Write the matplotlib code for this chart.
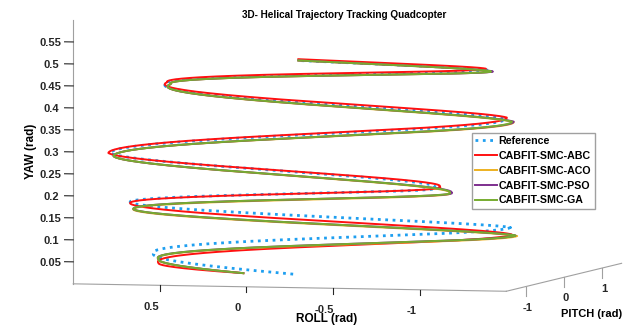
import numpy as np
import matplotlib.pyplot as plt
from mpl_toolkits.mplot3d import proj3d

plt.rcParams['font.family'] = ['Liberation Sans', 'DejaVu Sans']
plt.rcParams['font.weight'] = 'bold'

names = ['Reference', 'CABFIT-SMC-ABC', 'CABFIT-SMC-ACO', 'CABFIT-SMC-PSO', 'CABFIT-SMC-GA']
colors = ['#1f9ff0', '#ff1010', '#edb120', '#7e2f8e', '#77ac30']

# roll / yaw at each left/right turning point of the helix
ref_start = [0.03, 0.0]          # roll, yaw
ref_tip_roll = [0.87, -1.19, 1.00, -0.75, 1.12, -1.16, 0.79, -1.07]
ref_tip_yaw = [0.038, 0.111, 0.156, 0.199, 0.265, 0.358, 0.426, 0.467]
ref_end_yaw = 0.486

abc_start = [0.32, 0.0]
abc_tip_roll = [0.84, -1.20, 1.00, -0.78, 1.13, -1.17, 0.79, -1.05]
abc_tip_yaw = [0.017, 0.095, 0.154, 0.201, 0.265, 0.361, 0.428, 0.471]
abc_end_yaw = 0.489

aco_start = [0.32, 0.0]
aco_tip_roll = [0.84, -1.23, 0.98, -0.84, 1.10, -1.21, 0.77, -1.08]
aco_tip_yaw = [0.025, 0.092, 0.140, 0.187, 0.258, 0.351, 0.424, 0.465]
aco_end_yaw = 0.486

pso_start = [0.32, 0.0]
pso_tip_roll = [0.84, -1.22, 0.98, -0.85, 1.10, -1.21, 0.77, -1.09]
pso_tip_yaw = [0.026, 0.093, 0.141, 0.188, 0.258, 0.352, 0.424, 0.465]
pso_end_yaw = 0.486

ga_start = [0.32, 0.0]
ga_tip_roll = [0.84, -1.22, 0.98, -0.84, 1.10, -1.20, 0.77, -1.08]
ga_tip_yaw = [0.026, 0.093, 0.141, 0.188, 0.258, 0.352, 0.424, 0.465]
ga_end_yaw = 0.486

roll_ticks = [0.5, 0, -0.5, -1]
pitch_ticks = [-1, 0, 1]
yaw_ticks = [0.05, 0.1, 0.15, 0.2, 0.25, 0.3, 0.35, 0.4, 0.45, 0.5, 0.55]


def helix(start, tip_roll, tip_yaw, end_yaw, pitch_amp=0.15, n=80):
    # walk the turns between the turning points read above
    amp = np.abs(tip_roll)
    t0 = -np.arccos(np.clip(start[0] / amp[0], -1, 1))
    ts, amps, yaws = [], [], []
    t = np.linspace(t0, 0, n)
    ts.append(t); amps.append(np.full(n, amp[0]))
    yaws.append(start[1] + (tip_yaw[0] - start[1]) * (t - t0) / (0 - t0))
    for k in range(len(amp) - 1):
        s = np.linspace(0, 1, n)
        ts.append((k + s) * np.pi)
        amps.append(amp[k] + (amp[k + 1] - amp[k]) * s)
        yaws.append(tip_yaw[k] + (tip_yaw[k + 1] - tip_yaw[k]) * s)
    s = np.linspace(0, 1, n)
    k = len(amp) - 1
    ts.append((k + 0.5 * s) * np.pi); amps.append(np.full(n, amp[-1]))
    yaws.append(tip_yaw[-1] + (end_yaw - tip_yaw[-1]) * s)
    t = np.concatenate(ts); a = np.concatenate(amps); z = np.concatenate(yaws)
    return a * np.cos(t), pitch_amp * np.sin(t), z


fig = plt.figure(figsize=(6.24, 3.26), dpi=100)
ax = fig.add_axes([0.0497, 0.052, 1.0, 1.0], projection='3d', proj_type='ortho')
ax.view_init(elev=-3.7, azim=75.1)
ax.set_box_aspect((1, 1, 0.59), zoom=2.045)

data = [(ref_start, ref_tip_roll, ref_tip_yaw, ref_end_yaw),
        (abc_start, abc_tip_roll, abc_tip_yaw, abc_end_yaw),
        (aco_start, aco_tip_roll, aco_tip_yaw, aco_end_yaw),
        (pso_start, pso_tip_roll, pso_tip_yaw, pso_end_yaw),
        (ga_start, ga_tip_roll, ga_tip_yaw, ga_end_yaw)]

for i, (st, tr, ty, ey) in enumerate(data):
    x, y, z = helix(st, tr, ty, ey)
    if i == 0:
        ax.plot(x, y, z, ':', color=colors[i], lw=2.0, label=names[i], clip_on=False)
    else:
        ax.plot(x, y, z, '-', color=colors[i], lw=1.4, label=names[i], clip_on=False)

ax.set_xlim(-1.5, 1)
ax.set_ylim(-1.5, 1.5)
ax.set_zlim(0, 0.6)
ax.set_xticks(roll_ticks)
ax.set_yticks([])
ax.set_zticks(yaw_ticks)
ax.set_xticklabels(['0.5', '0', '-0.5', '-1'])
ax.set_zticklabels([str(v) for v in yaw_ticks])
ax.grid(False)
for axis in (ax.xaxis, ax.yaxis, ax.zaxis):
    axis.set_pane_color((1, 1, 1, 0))
    axis.line.set_color('#a0a0a0')
    axis.set_ticks_position('lower')
    axis.set_tick_params(labelsize=8, colors='#262626')
    axis._axinfo['tick']['inward_factor'] = 0.25
    axis._axinfo['tick']['outward_factor'] = 0.0
    axis._axinfo['tick']['color'] = '#a0a0a0'
ax.xaxis.set_tick_params(pad=1)
ax.zaxis.set_tick_params(pad=-3)
for lab in ax.get_xticklabels() + ax.get_zticklabels():
    lab.set_va('center')

# pitch ticks hang straight down from the pitch axis
for v in pitch_ticks:
    ax.plot([-1.5, -1.5], [v, v], [0, -0.022], color='#a0a0a0', lw=0.8, clip_on=False)

fig.text(0.552, 0.955, '3D- Helical Trajectory Tracking Quadcopter', ha='center', va='center', fontsize=7.2)
fig.text(0.524, 0.022, 'ROLL (rad)', ha='center', va='center', fontsize=8.5)
fig.text(0.997, 0.037, 'PITCH (rad)', ha='right', va='center', fontsize=8)
fig.text(0.05, 0.537, 'YAW (rad)', ha='center', va='center', rotation=90, fontsize=8.5)

handles, labels = ax.get_legend_handles_labels()
ax.legend(handles[:5], labels[:5], loc='upper left', bbox_to_anchor=(472 / 624, 1 - 133 / 326),
          bbox_transform=fig.transFigure,
          fontsize=7.7, frameon=True, fancybox=False, edgecolor='#a0a0a0', framealpha=1,
          labelspacing=0.45, handlelength=2.0, handletextpad=0.2, borderpad=0.3, borderaxespad=0)

# pitch tick labels: project the point under each tick, then place as figure text
fig.canvas.draw()
for v in pitch_ticks:
    px, py, _ = proj3d.proj_transform(-1.51, v, -0.048, ax.get_proj())
    dx, dy = ax.transData.transform((px, py))
    fig.text(dx / fig.bbox.width, dy / fig.bbox.height, '%g' % v,
             ha='center', va='center', fontsize=8, color='#262626')

fig.savefig('out.png', dpi=100)
